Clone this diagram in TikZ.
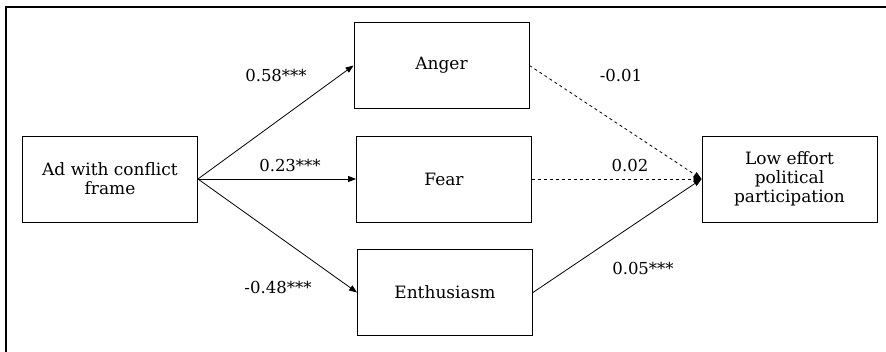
\documentclass[tikz,border=0pt]{standalone}
\usepackage{fontspec}
\setmainfont{DejaVu Serif}
\usetikzlibrary{arrows.meta}

\begin{document}
\begin{tikzpicture}[x=1pt,y=-1pt,
  box/.style={draw,line width=0.9pt,minimum width=175pt,minimum height=86pt,inner sep=0pt,align=center,font=\fontsize{17}{19}\selectfont},
  lbl/.style={inner sep=0pt,font=\fontsize{16.5}{18}\selectfont},
  path/.style={line width=0.8pt,-{Triangle[length=8pt,width=6pt]}},
  nopath/.style={path,dashed}]
\useasboundingbox (0,0) rectangle (886,352);
\draw[line width=1.4pt] (6,352) -- (6,7) -- (886,7);
% boxes
\node[box] (ad) at (110,179) {Ad with conflict\\frame};
\node[box] (anger) at (441.5,65.5) {Anger};
\node[box] (fear) at (444,179) {Fear};
\node[box] (enth) at (445,292.5) {Enthusiasm};
\node[box] (low) at (789.5,179) {Low effort\\political\\participation};
% paths
\foreach \t in {anger,fear,enth} {
  \draw[path] (ad.east) -- (\t.west);
}
\draw[nopath] (anger.east) -- (low.west);
\draw[nopath] (fear.east) -- (low.west);
\draw[path] (enth.east) -- (low.west);
% coefficients
\foreach \n/\x/\y/\v in %
{a/276/75/0.58***,b/290/165/0.23***,c/278/287/-0.48***,d/621/75/-0.01,e/630/165/0.02,f/643/268/0.05***} {
  \node[lbl] (c\n) at (\x,\y) {\v};
}
\end{tikzpicture}
\end{document}
